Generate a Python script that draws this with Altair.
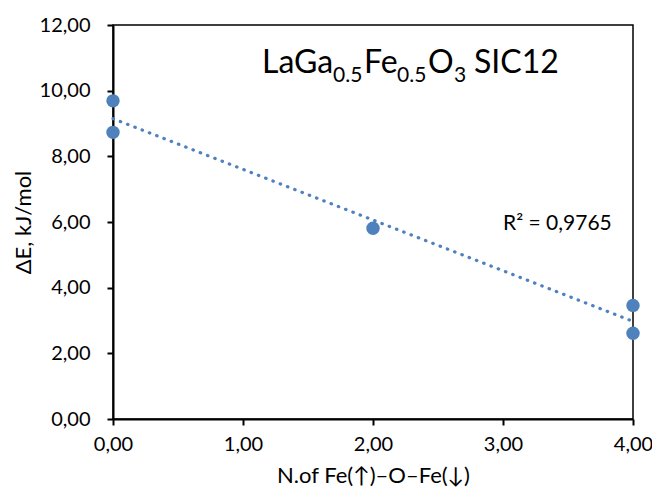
import altair as alt
import pandas as pd

# ---- data ----
n_fe_pairs = [0, 0, 2, 4, 4]
delta_e = [9.69, 8.73, 5.81, 3.46, 2.61]

x_ticks = [0, 1, 2, 3, 4]
y_ticks = [0, 2, 4, 6, 8, 10, 12]

x_title = "N.of Fe(↑)–O–Fe(↓)"
y_title = "ΔE, kJ/mol"
r2_label = "R² = 0,9765"

# title pieces: (text, is_subscript)
title_pieces = [("LaGa", False), ("0.5", True), ("Fe", False), ("0.5", True),
                ("O", False), ("3", True), ("SIC12", False)]

df = pd.DataFrame({"x": n_fe_pairs, "y": delta_e})

FONT = "Lato"
BLUE = "#4F81BD"
W, H = 520, 394

label_expr = "replace(format(datum.value, '.2f'), '.', ',')"

xs = alt.Scale(domain=[0, 4], nice=False, zero=False)
ys = alt.Scale(domain=[0, 12], nice=False)

base = alt.Chart(df)

points = base.mark_circle(size=180, color=BLUE, opacity=1).encode(
    x=alt.X("x:Q", scale=xs,
            axis=alt.Axis(values=x_ticks, labelExpr=label_expr, title=x_title,
                          grid=False, tickSize=6, labelPadding=9, titlePadding=11,
                          labelFlush=False)),
    y=alt.Y("y:Q", scale=ys,
            axis=alt.Axis(values=y_ticks, labelExpr=label_expr, title=y_title,
                          grid=False, tickSize=6, labelPadding=17, titlePadding=4,
                          labelFlush=False)),
)

trend = base.transform_regression("x", "y", method="linear", extent=[0, 4]).mark_line(
    color=BLUE, strokeWidth=3.2, strokeDash=[0.5, 7.3], strokeCap="round"
).encode(x=alt.X("x:Q", scale=xs), y=alt.Y("y:Q", scale=ys))

# title composed of pieces (positions in plot pixels)
piece_x = [149, 220, 251, 284, 315, 341, 361]
layers = [points, trend]
for (txt, sub), px in zip(title_pieces, piece_x):
    layers.append(
        alt.Chart(pd.DataFrame({"t": [txt]})).mark_text(
            font=FONT, fontSize=21 if sub else 32, align="left",
            baseline="alphabetic", color="black"
        ).encode(text="t:N", x=alt.value(px), y=alt.value(57 if sub else 48))
    )

layers.append(
    alt.Chart(pd.DataFrame({"t": [r2_label]})).mark_text(
        font=FONT, fontSize=21, align="left", baseline="alphabetic", color="black"
    ).encode(text="t:N", x=alt.value(390), y=alt.value(205))
)

chart = alt.layer(*layers).properties(
    width=W, height=H,
    autosize=alt.AutoSizeParams(type="none"),
    padding={"left": 105, "top": 17, "right": 19, "bottom": 70},
).configure_view(
    stroke="black", strokeWidth=1.5
).configure_axis(
    domainColor="black", domainWidth=2, tickColor="black", tickWidth=2,
    labelFont=FONT, labelFontSize=20, labelColor="black",
    titleFont=FONT, titleFontSize=22, titleColor="black", titleFontWeight="normal",
)

chart.save("out.html", embed_options={"renderer": "svg", "actions": False})
